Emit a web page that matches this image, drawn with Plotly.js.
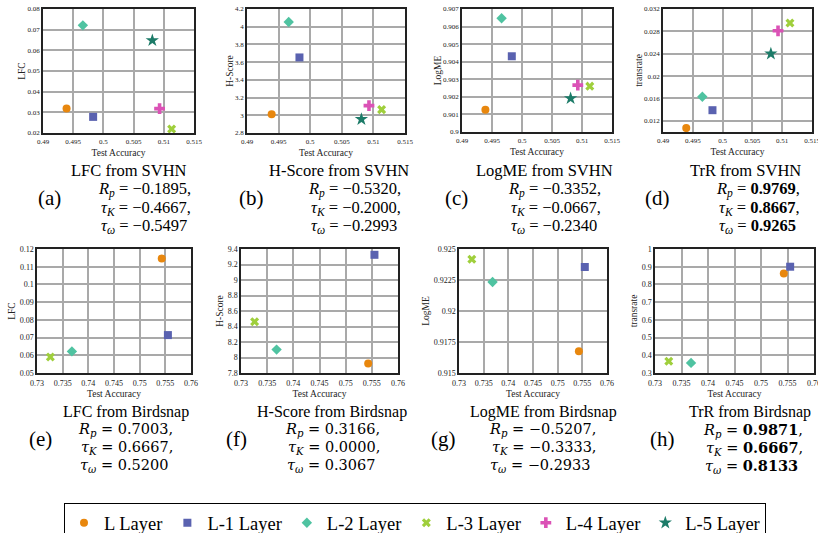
<!DOCTYPE html>
<html>
<head>
<meta charset="utf-8">
<script src="https://cdn.plot.ly/plotly-3.0.1.min.js"></script>
<style>html,body{margin:0;padding:0;background:#fff;}#chart{width:818px;height:533px;}</style>
</head>
<body>
<div id="chart"></div>
<script>
// ---------------- data ----------------
const layers = ['L Layer', 'L-1 Layer', 'L-2 Layer', 'L-3 Layer', 'L-4 Layer', 'L-5 Layer'];
const svhnAcc    = [0.4939, 0.4983, 0.4966, 0.5113, 0.5093, 0.5081];
const svhnLFC    = [0.0318, 0.0278, 0.0721, 0.0219, 0.0318, 0.0648];
const svhnHScore = [3.011, 3.653, 4.053, 3.064, 3.109, 2.955];
const svhnLogME  = [0.90127, 0.90431, 0.90647, 0.90261, 0.90267, 0.90191];
const svhnTrR    = [0.0107, 0.0139, 0.0163, 0.0295, 0.0281, 0.0240];
const birdAcc    = [0.7543, 0.7555, 0.7368, 0.7326];
const birdLFC    = [0.1147, 0.0714, 0.0622, 0.0590];
const birdHScore = [7.921, 9.325, 8.102, 8.461];
const birdLogME  = [0.91675, 0.92355, 0.92234, 0.92417];
const birdTrR    = [0.862, 0.900, 0.357, 0.366];

const metricNames = ['LFC', 'H-Score', 'LogME', 'TrR'];
const yTitles     = ['LFC', 'H-Score', 'LogME', 'transrate'];
const sourceNames = ['SVHN', 'Birdsnap'];
const xTitle      = 'Test Accuracy';
const panelLabels = ['(a)', '(b)', '(c)', '(d)', '(e)', '(f)', '(g)', '(h)'];
const rpVals   = [-0.1895, -0.5320, -0.3352, 0.9769, 0.7003, 0.3166, -0.5207, 0.9871];
const tauKVals = [-0.4667, -0.2000, -0.0667, 0.8667, 0.6667, 0.0000, -0.3333, 0.6667];
const tauWVals = [-0.5497, -0.2993, -0.2340, 0.9265, 0.5200, 0.3067, -0.2933, 0.8133];
const boldPanels = [3, 7];

// ---------------- style ----------------
const W = 818, H = 533;
const colors  = ['#e8870e', '#5a62b0', '#4fc3a1', '#9fcf3c', '#db52b6', '#1c7b68'];
const symbols = ['circle', 'square', 'diamond', 'x', 'cross', 'star'];
const sizes   = [8, 8, 8, 8, 9, 10];
const serif = 'Liberation Serif';
const mserif = 'DejaVu Serif';

// pixel boxes [left, right, top, bottom]
const boxes = [
  [43, 194, 9, 133], [247, 405, 9, 133], [462, 612, 9, 132], [663, 812, 9, 132],
  [37, 191, 249, 373], [241, 398, 249, 373], [459, 607, 249, 373], [655, 814, 249, 373]
];
const yRanges = [[0.02, 0.08], [2.8, 4.2], [0.9, 0.907], [0.01, 0.032],
                 [0.05, 0.12], [7.8, 9.4], [0.915, 0.925], [0.3, 1]];
const yDticks = [0.01, 0.2, 0.001, 0.004, 0.01, 0.2, 0.0025, 0.1];
const yTick0  = [0, 0, 0, 0.012, 0, 0, 0, 0];
const xRanges = [[0.49, 0.515], [0.73, 0.76]];

const titleX = [129, 339, 544, 745, 126, 332, 543, 750];
const labelX = [49, 251, 456, 657, 40, 236, 443, 662];
const rightX = [193, 403, 603, 802, 175, 382, 598, 805];
const rowStyle = [
  {titleY: 170, lineY: [189, 207.5, 226], labelY: 198, titleSize: 16.5, mathFont: serif, mathSize: 16.5, commaW: 4.1, labelSize: 21,
   tickSize: 7, xLabelGap: 1, xTitleStandoff: 4, yTitleStandoff: 0},
  {titleY: 412, lineY: [430, 448, 466], labelY: 439, titleSize: 16, mathFont: mserif, mathSize: 14.5, commaW: 4.6, labelSize: 21,
   tickSize: 8, xLabelGap: 2, xTitleStandoff: 3, yTitleStandoff: 2}
];

const px = x => x / W;
const py = y => 1 - y / H;
const fmt = v => (v < 0 ? '\u2212' : '') + Math.abs(v).toFixed(4);

const svhnMetrics = [svhnLFC, svhnHScore, svhnLogME, svhnTrR];
const birdMetrics = [birdLFC, birdHScore, birdLogME, birdTrR];

const traces = [];
const layout = {
  width: W, height: H,
  margin: {l: 0, r: 0, t: 0, b: 0, pad: 0, autoexpand: false},
  paper_bgcolor: '#ffffff', plot_bgcolor: '#ffffff',
  font: {family: serif, color: '#000'},
  showlegend: true,
  legend: {
    orientation: 'h', x: px(415), xanchor: 'center', y: py(503), yanchor: 'top',
    bordercolor: '#000', borderwidth: 1.2, bgcolor: '#fff',
    font: {family: serif, size: 18.5, color: '#000'},
    itemwidth: 30, itemsizing: 'trace', tracegroupgap: 0
  },
  annotations: []
};

for (let p = 0; p < 8; p++) {
  const row = p < 4 ? 0 : 1;
  const m = p % 4;
  const rs = rowStyle[row];
  const xs = row === 0 ? svhnAcc : birdAcc;
  const ys = row === 0 ? svhnMetrics[m] : birdMetrics[m];
  const sfx = p === 0 ? '' : String(p + 1);
  for (let k = 0; k < xs.length; k++) {
    traces.push({
      type: 'scatter', mode: 'markers',
      x: [xs[k]], y: [ys[k]],
      xaxis: 'x' + sfx, yaxis: 'y' + sfx,
      name: layers[k], legendgroup: layers[k],
      showlegend: p === 0,
      marker: {color: colors[k], symbol: symbols[k], size: sizes[k], line: {width: 0}},
      hoverinfo: 'x+y+name'
    });
  }
  const b = boxes[p];
  const axCommon = {
    showline: true, mirror: true, linecolor: '#222', linewidth: 1.5,
    showgrid: true, gridcolor: '#a9a9a9', gridwidth: 1.5,
    zeroline: false, ticks: '', ticklabeloverflow: 'allow',
    tickfont: {family: serif, size: rs.tickSize, color: '#222'},
    fixedrange: true
  };
  layout['xaxis' + sfx] = Object.assign({}, axCommon, {
    domain: [px(b[0]), px(b[1])], anchor: 'y' + sfx,
    range: xRanges[row], dtick: 0.005, tick0: 0,
    ticklabelstandoff: rs.xLabelGap,
    title: {text: xTitle, font: {family: serif, size: 9.5, color: '#222'}, standoff: rs.xTitleStandoff}
  });
  layout['yaxis' + sfx] = Object.assign({}, axCommon, {
    domain: [py(b[3]), py(b[2])], anchor: 'x' + sfx,
    range: yRanges[p], dtick: yDticks[p], tick0: yTick0[p],
    title: {text: yTitles[m], font: {family: serif, size: 9.5, color: '#222'}, standoff: rs.yTitleStandoff}
  });

  // captions
  layout.annotations.push({
    xref: 'paper', yref: 'paper', x: px(titleX[p]), y: py(rs.titleY),
    xanchor: 'center', yanchor: 'middle', showarrow: false,
    text: metricNames[m] + ' from ' + sourceNames[row],
    font: {family: serif, size: rs.titleSize, color: '#000'}
  });
  layout.annotations.push({
    xref: 'paper', yref: 'paper', x: px(labelX[p]), y: py(rs.labelY),
    xanchor: 'center', yanchor: 'middle', showarrow: false,
    text: panelLabels[p],
    font: {family: serif, size: rs.labelSize, color: '#000'}
  });
  const bold = boldPanels.indexOf(p) >= 0;
  const val = v => bold ? '<b>' + fmt(v) + '</b>' : fmt(v);
  const lines = [
    '<i>R</i><sub><i>p</i></sub> = ' + val(rpVals[p]) + ',',
    '<i>\u03C4</i><sub><i>K</i></sub> = ' + val(tauKVals[p]) + ',',
    '<i>\u03C4</i><sub><i>\u03C9</i></sub> = ' + val(tauWVals[p])
  ];
  for (let li = 0; li < 3; li++) {
    layout.annotations.push({
      xref: 'paper', yref: 'paper',
      x: px(rightX[p] - (li === 2 ? rs.commaW : 0)), y: py(rs.lineY[li]),
      xanchor: 'right', yanchor: 'middle', showarrow: false,
      text: lines[li],
      font: {family: rs.mathFont, size: rs.mathSize, color: '#000'}
    });
  }
}

Plotly.newPlot('chart', traces, layout, {displayModeBar: false, responsive: false});
</script>
</body>
</html>
